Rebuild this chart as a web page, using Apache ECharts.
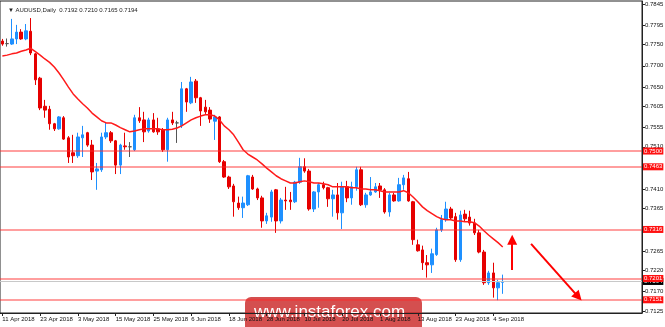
<!DOCTYPE html>
<html><head><meta charset="utf-8">
<script src="https://cdn.jsdelivr.net/npm/echarts@6/dist/echarts.min.js"></script>
<style>html,body{margin:0;padding:0;background:#fff}#c{width:665px;height:327px}</style>
</head><body><div id="c"></div>
<script>
const symbolName = 'AUDUSD,Daily';
const startDate = '2018-04-11';
const opens = [
0.7758,0.7752,0.7751,0.7763,0.7779,0.7763,0.7781,0.7728,0.7671,0.7605,
0.7598,0.7564,0.7552,0.7578,0.7531,0.7496,0.7489,0.7531,0.7543,0.7514,
0.7453,0.7456,0.7533,0.7543,0.7524,0.7467,0.7512,0.7510,0.7503,0.7578,
0.7573,0.7547,0.7573,0.7552,0.7550,0.7503,0.7573,0.7566,0.7560,0.7646,
0.7613,0.7664,0.7625,0.7603,0.7596,0.7570,0.7580,0.7475,0.7439,0.7418,
0.7378,0.7367,0.7374,0.7439,0.7411,0.7390,0.7336,0.7345,0.7409,0.7336,
0.7385,0.7385,0.7381,0.7427,0.7463,0.7453,0.7364,0.7404,0.7421,0.7414,
0.7388,0.7397,0.7355,0.7416,0.7390,0.7416,0.7456,0.7374,0.7397,0.7404,
0.7418,0.7409,0.7357,0.7397,0.7383,0.7421,0.7435,0.7381,0.7280,0.7268,
0.7238,0.7233,0.7257,0.7315,0.7339,0.7364,0.7346,0.7245,0.7352,0.7345,
0.7331,0.7308,0.7263,0.7191,0.7214,0.7179,0.7192];
const highs = [
0.7763,0.7764,0.7810,0.7796,0.7786,0.7798,0.7812,0.7730,0.7674,0.7620,
0.7606,0.7566,0.7582,0.7582,0.7535,0.7538,0.7543,0.7559,0.7545,0.7526,
0.7472,0.7543,0.7566,0.7547,0.7526,0.7517,0.7543,0.7521,0.7585,0.7603,
0.7592,0.7578,0.7589,0.7578,0.7554,0.7578,0.7592,0.7571,0.7662,0.7648,
0.7674,0.7669,0.7627,0.7620,0.7603,0.7585,0.7582,0.7479,0.7442,0.7423,
0.7393,0.7393,0.7444,0.7444,0.7414,0.7395,0.7355,0.7409,0.7411,0.7390,
0.7416,0.7404,0.7430,0.7484,0.7483,0.7458,0.7406,0.7425,0.7428,0.7416,
0.7409,0.7425,0.7428,0.7430,0.7428,0.7463,0.7463,0.7402,0.7439,0.7425,
0.7425,0.7413,0.7402,0.7402,0.7437,0.7444,0.7451,0.7383,0.7292,0.7278,
0.7256,0.7271,0.7320,0.7350,0.7381,0.7369,0.7355,0.7360,0.7362,0.7360,
0.7341,0.7315,0.7268,0.7219,0.7238,0.7198,0.7210];
const lows = [
0.7747,0.7745,0.7749,0.7751,0.7761,0.7760,0.7725,0.7655,0.7596,0.7578,
0.7550,0.7547,0.7550,0.7526,0.7472,0.7472,0.7484,0.7486,0.7510,0.7432,
0.7409,0.7451,0.7528,0.7519,0.7446,0.7446,0.7503,0.7486,0.7500,0.7566,
0.7521,0.7543,0.7543,0.7538,0.7498,0.7475,0.7561,0.7519,0.7554,0.7592,
0.7610,0.7613,0.7559,0.7587,0.7566,0.7526,0.7472,0.7437,0.7411,0.7346,
0.7362,0.7343,0.7371,0.7409,0.7385,0.7320,0.7329,0.7334,0.7308,0.7330,
0.7362,0.7362,0.7378,0.7423,0.7449,0.7360,0.7357,0.7367,0.7410,0.7369,
0.7346,0.7339,0.7317,0.7380,0.7374,0.7407,0.7371,0.7367,0.7395,0.7402,
0.7390,0.7353,0.7346,0.7381,0.7381,0.7409,0.7381,0.7280,0.7264,0.7221,
0.7203,0.7214,0.7254,0.7310,0.7334,0.7339,0.7240,0.7240,0.7334,0.7325,
0.7303,0.7260,0.7186,0.7186,0.7156,0.7150,0.7165];
const closes = [
0.7751,0.7752,0.7763,0.7779,0.7763,0.7782,0.7730,0.7667,0.7601,0.7596,
0.7564,0.7552,0.7580,0.7528,0.7486,0.7489,0.7533,0.7538,0.7514,0.7451,
0.7458,0.7533,0.7543,0.7524,0.7467,0.7514,0.7510,0.7510,0.7578,0.7571,
0.7545,0.7573,0.7545,0.7545,0.7503,0.7573,0.7566,0.7566,0.7646,0.7615,
0.7662,0.7625,0.7594,0.7592,0.7575,0.7580,0.7475,0.7439,0.7416,0.7381,
0.7367,0.7378,0.7442,0.7411,0.7390,0.7336,0.7348,0.7404,0.7336,0.7385,
0.7383,0.7381,0.7427,0.7463,0.7453,0.7364,0.7404,0.7421,0.7414,0.7388,
0.7397,0.7355,0.7416,0.7390,0.7416,0.7456,0.7374,0.7397,0.7404,0.7416,
0.7409,0.7357,0.7397,0.7383,0.7421,0.7437,0.7383,0.7292,0.7266,0.7238,
0.7233,0.7259,0.7315,0.7339,0.7364,0.7343,0.7245,0.7350,0.7341,0.7331,
0.7308,0.7263,0.7191,0.7214,0.7179,0.7191,0.7194];
const maValues = [
0.7723,0.7725,0.7728,0.7730,0.7734,0.7737,0.7741,0.7733,0.7725,0.7716,
0.7708,0.7697,0.7683,0.7667,0.7650,0.7634,0.7622,0.7611,0.7601,0.7589,
0.7580,0.7571,0.7566,0.7566,0.7561,0.7555,0.7550,0.7545,0.7547,0.7550,
0.7552,0.7552,0.7552,0.7552,0.7550,0.7550,0.7551,0.7554,0.7559,0.7566,
0.7573,0.7578,0.7582,0.7585,0.7585,0.7582,0.7573,0.7559,0.7550,0.7538,
0.7521,0.7503,0.7493,0.7486,0.7479,0.7470,0.7460,0.7451,0.7442,0.7435,
0.7430,0.7425,0.7425,0.7428,0.7430,0.7428,0.7425,0.7425,0.7423,0.7421,
0.7416,0.7416,0.7416,0.7416,0.7414,0.7414,0.7411,0.7411,0.7409,0.7409,
0.7407,0.7404,0.7404,0.7404,0.7404,0.7407,0.7402,0.7392,0.7381,0.7369,
0.7360,0.7353,0.7346,0.7341,0.7339,0.7339,0.7336,0.7336,0.7334,0.7334,
0.7332,0.7324,0.7313,0.7303,0.7294,0.7285,0.7275];
const xTickLabels = ['11 Apr 2018','23 Apr 2018','3 May 2018','15 May 2018','25 May 2018','6 Jun 2018',
  '18 Jun 2018','28 Jun 2018','10 Jul 2018','20 Jul 2018','1 Aug 2018','13 Aug 2018','23 Aug 2018','4 Sep 2018'];
const yTickValues = [0.7125,0.7170,0.7220,0.7265,0.7316,0.7365,0.7410,0.7463,0.7510,0.7555,0.7605,0.7650,0.7700,0.7750,0.7795,0.7845];
const levels = [0.7500, 0.7463, 0.7316, 0.7201, 0.7151];
const bidPrice = 0.7194;
const arrowUp = [[108, 0.7221], [108, 0.7292]];
const arrowDown = [[112, 0.7282], [122, 0.7158]];
const futureSlots = 29;
const labelStep = 8;

const dates = [];
const d = new Date(startDate + 'T00:00:00Z');
while (dates.length < opens.length) {
  const wd = d.getUTCDay();
  if (wd !== 0 && wd !== 6) dates.push(d.toISOString().slice(0, 10));
  d.setUTCDate(d.getUTCDate() + 1);
}
const categories = dates.slice();
for (let i = 0; i < futureSlots; i++) categories.push('f' + i);
const candles = dates.map((_, i) => [opens[i], closes[i], lows[i], highs[i]]);
const last = opens.length - 1;
const fmt = v => Number(v).toFixed(4);
const showTick = idx => idx % labelStep === 0 && idx / labelStep < xTickLabels.length;

const FONT = 'Liberation Sans';
const chart = echarts.init(document.getElementById('c'), null, {renderer: 'canvas'});
chart.setOption({
  animation: false,
  backgroundColor: '#fff',
  title: {
    text: '\u25BC ' + symbolName + '  ' + [opens[last], highs[last], lows[last], closes[last]].map(fmt).join(' '),
    left: 3, top: 2,
    textStyle: {fontSize: 6, fontWeight: 'normal', color: '#222', fontFamily: FONT}
  },
  grid: {left: 0, right: 23, top: 1, bottom: 14, show: true, borderColor: '#222', borderWidth: 1,
         containLabel: false, outerBoundsMode: 'none'},
  xAxis: {
    type: 'category', data: categories, boundaryGap: true,
    axisLine: {show: true, lineStyle: {color: '#222', width: 1}},
    axisTick: {show: true, interval: showTick, alignWithLabel: true, length: 3, lineStyle: {color: '#222'}},
    axisLabel: {show: true, interval: showTick, align: 'left', margin: 3, fontSize: 6, color: '#111', fontFamily: FONT,
      formatter: (val) => { const i = dates.indexOf(val); return i >= 0 && i % labelStep === 0 ? (xTickLabels[i / labelStep] || '') : ''; }},
    splitLine: {show: false}
  },
  yAxis: {
    type: 'value', position: 'right', min: 0.7120, max: 0.7852, scale: true,
    axisLine: {show: true, lineStyle: {color: '#222', width: 1}},
    axisTick: {show: true, customValues: yTickValues, length: 3, lineStyle: {color: '#222'}},
    axisLabel: {show: true, customValues: yTickValues, formatter: v => fmt(v), margin: 3, fontSize: 6, color: '#111', fontFamily: FONT},
    splitLine: {show: false}
  },
  series: [
    {
      name: 'bid', type: 'line', data: [], z: 1, silent: true,
      markLine: {
        silent: true, symbol: ['none', 'none'], precision: 4,
        lineStyle: {color: '#c8c8c8', width: 1, type: 'solid'},
        label: {show: true, position: 'end', distance: 1, formatter: p => fmt(p.value), color: '#fff', backgroundColor: '#000',
                fontSize: 6, fontFamily: FONT, padding: [1, 1, 0, 1]},
        data: [{yAxis: bidPrice}]
      }
    },
    {
      name: 'levels', type: 'line', data: [], z: 1, silent: true,
      markLine: {
        silent: true, symbol: ['none', 'none'], precision: 4,
        lineStyle: {color: 'rgba(255,40,40,0.45)', width: 2, type: 'solid'},
        label: {show: true, position: 'end', distance: 1, formatter: p => fmt(p.value), color: '#fff', backgroundColor: '#ff1010',
                fontSize: 6, fontFamily: FONT, padding: [1, 1, 0, 1]},
        data: levels.map(v => ({yAxis: v}))
      }
    },
    {
      name: symbolName, type: 'candlestick', data: candles, z: 2, barWidth: 3,
      itemStyle: {color: '#1e90ff', color0: '#e60000', borderColor: '#1e90ff', borderColor0: '#e60000', borderColorDoji: '#555', borderWidth: 1}
    },
    {
      name: 'MA', type: 'line', data: maValues, z: 3, showSymbol: false, smooth: false,
      lineStyle: {color: '#ff1a1a', width: 1.5}
    },
    {
      name: 'arrows', type: 'line', data: [], z: 4, silent: true,
      markLine: {
        silent: true, symbol: ['none', 'triangle'], symbolSize: 10, precision: 4,
        lineStyle: {color: '#ff0000', width: 2, type: 'solid'},
        label: {show: false},
        data: [
          [{coord: arrowUp[0]}, {coord: arrowUp[1]}],
          [{coord: arrowDown[0]}, {coord: arrowDown[1]}]
        ]
      }
    }
  ],
  graphic: [{
    type: 'group', left: 245, top: 297, z: 100,
    children: [
      {type: 'rect', shape: {x: 0, y: 0, width: 177, height: 32, r: [6, 6, 0, 0]}, style: {fill: 'rgba(200,30,30,0.78)'}},
      {type: 'text', x: 9, y: 15, style: {text: 'www.instaforex.com', fill: '#fff', font: '17px "Liberation Sans", Arial, sans-serif', textVerticalAlign: 'middle'}}
    ]
  }]
});
</script>
</body></html>
